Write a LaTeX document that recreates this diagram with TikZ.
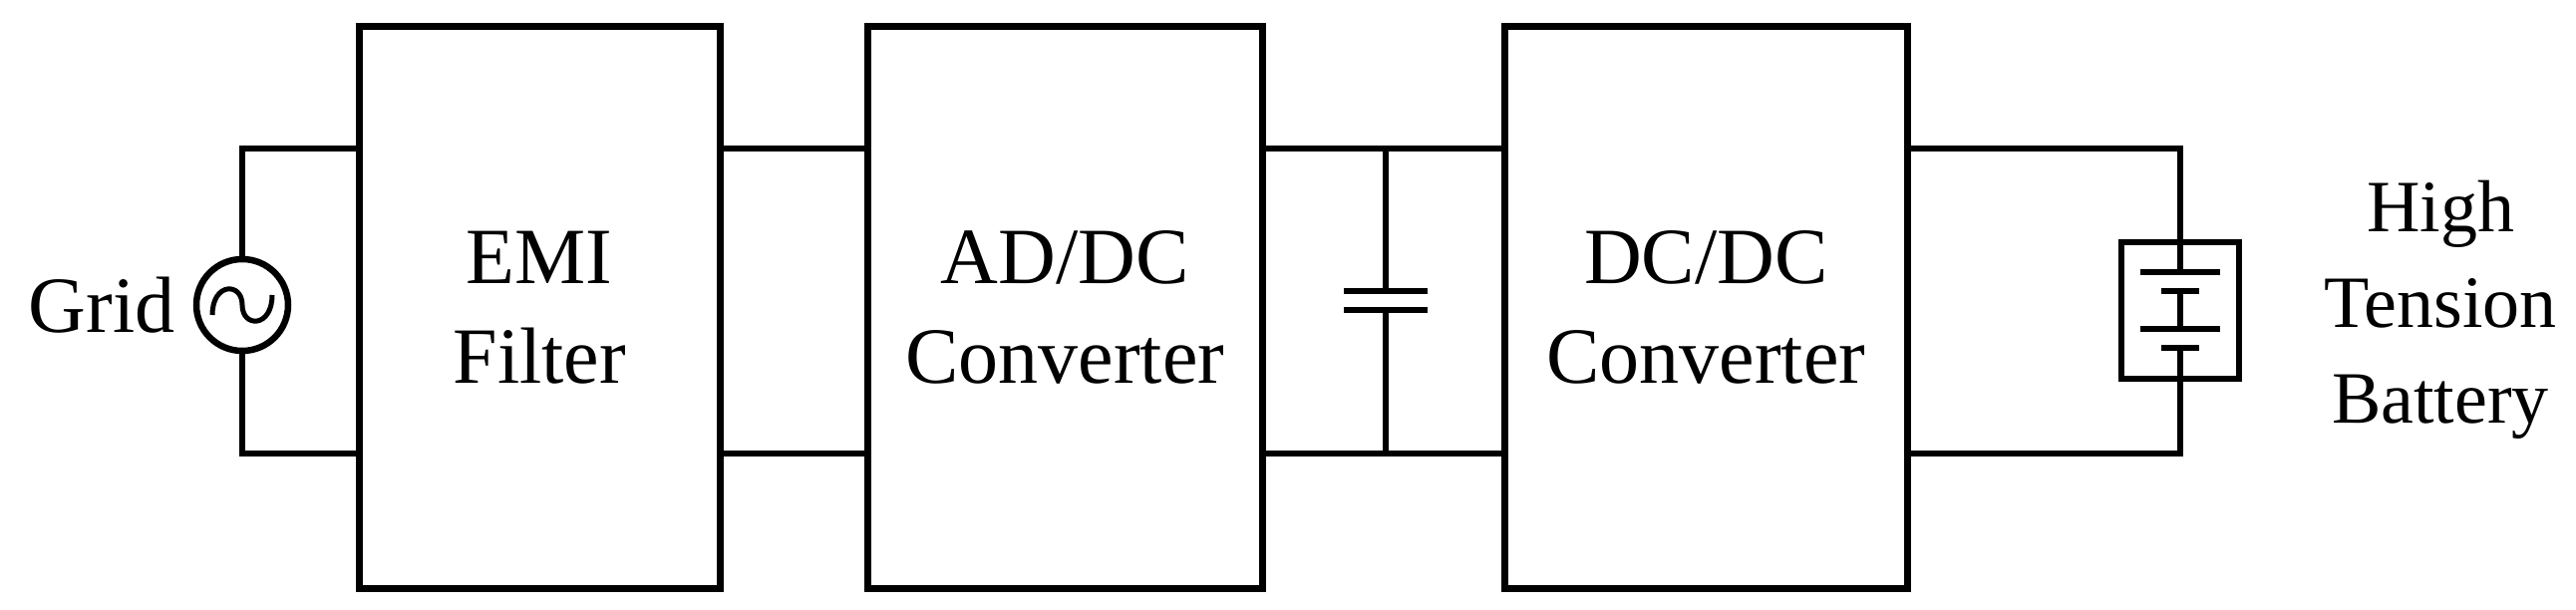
\documentclass[tikz,border=0pt]{standalone}
\usepackage{fontspec}
\setmainfont{Liberation Serif}
\begin{document}
\begin{tikzpicture}[x=1pt,y=-1pt,line width=6.5pt,
  blk/.style={draw,minimum width=#1,minimum height=564pt,anchor=north west,inner sep=0pt,align=center,font=\fontsize{80}{100}\selectfont},
  lbl/.style={align=center,font=\fontsize{74}{96}\selectfont}]
\useasboundingbox (0,0) rectangle (2584,611);
\node[blk=362pt] (emi) at (357,23) {EMI\\Filter};
\node[blk=396pt] (ad) at (867,23) {AD/DC\\Converter};
\node[blk=404pt] (dc) at (1506,23) {DC/DC\\Converter};
% source
\node[draw,circle,minimum size=92pt,inner sep=0pt] (src) at (243,306) {};
\draw (src.north) -- (243,149) coordinate (s1) -- (s1 -| emi.west);
\draw (src.south) -- (243,455) coordinate (s2) -- (s2 -| emi.west);
\draw[line width=5pt] (213,316) .. controls (213,283) and (243,283) .. (243,306) .. controls (243,329) and (273,329) .. (273,296);
\node[lbl,anchor=east,font=\fontsize{80}{96}\selectfont] (grid) at (182,306) {Grid};
% EMI to AD
\draw (emi.east |- 0,149) -- (ad.west |- 0,149);
\draw (emi.east |- 0,455) -- (ad.west |- 0,455);
% AD to DC with cap
\draw (ad.east |- 0,149) -- (dc.west |- 0,149);
\draw (ad.east |- 0,455) -- (dc.west |- 0,455);
\coordinate (c1) at (1390,149); \coordinate (c2) at (1390,455);
\coordinate (p1) at (1390,292); \coordinate (p2) at (1390,311);
\draw (c1) -- (p1); \draw (p2) -- (c2);
\draw ([xshift=-42pt]p1) -- ([xshift=42pt]p1);
\draw ([xshift=-42pt]p2) -- ([xshift=42pt]p2);
% battery
\coordinate (b1) at (2187,149); \coordinate (b2) at (2187,455);
\draw (dc.east |- b1) -- (b1) -- (2187,273);
\draw (dc.east |- b2) -- (b2) -- (2187,349);
\node[draw,minimum width=118pt,minimum height=137pt,inner sep=0pt] (bat) at (2187,311.5) {};
\draw (2147,273) -- (2227,273);
\draw (2168,292) -- (2206,292);
\draw (2147,330) -- (2227,330);
\draw (2168,349) -- (2206,349);
\draw (2187,292) -- (2187,330);
\node[lbl] (txt) at (2448,311) {High\\Tension\\Battery};
\end{tikzpicture}
\end{document}
